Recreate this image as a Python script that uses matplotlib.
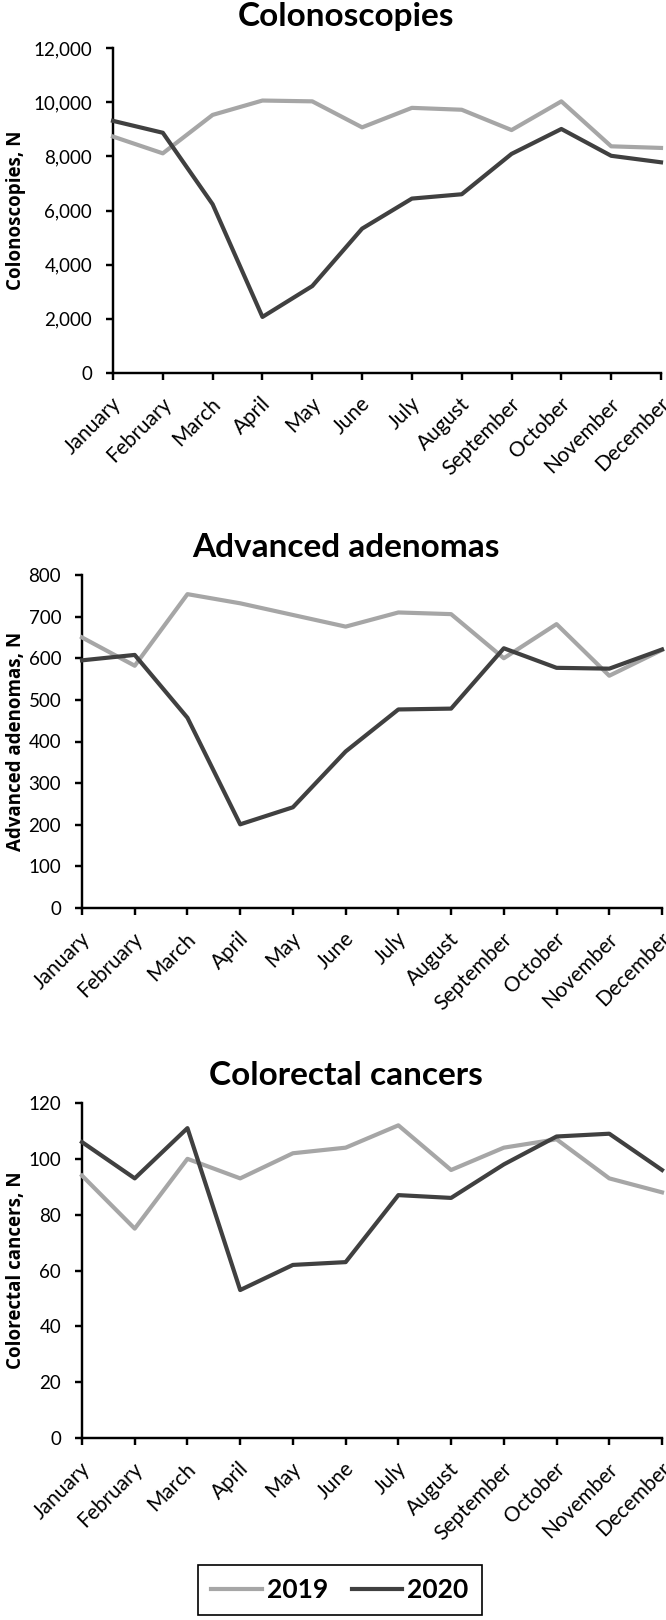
#!/usr/bin/env python3

import sys

from matplotlib import pyplot, ticker, transforms


MONTHS = ["January", "February", "March", "April", "May", "June", "July",
          "August", "September", "October", "November", "December"]

COLONOSCOPIES_2019 = [8730, 8110, 9530, 10060, 10030, 9070, 9790, 9720, 8970, 10030, 8370, 8310]
COLONOSCOPIES_2020 = [9310, 8870, 6230, 2070, 3210, 5330, 6440, 6600, 8090, 9010, 8020, 7780]

ADENOMAS_2019 = [650, 582, 754, 732, 704, 676, 710, 706, 600, 682, 558, 620]
ADENOMAS_2020 = [595, 608, 457, 201, 242, 376, 477, 479, 624, 577, 575, 621]

CANCERS_2019 = [94, 75, 100, 93, 102, 104, 112, 96, 104, 107, 93, 88]
CANCERS_2020 = [106, 93, 111, 53, 62, 63, 87, 86, 98, 108, 109, 96]

TITLES = ["Colonoscopies", "Advanced adenomas", "Colorectal cancers"]
YLABELS = ["Colonoscopies, N", "Advanced adenomas, N", "Colorectal cancers, N"]
YTICKS = [range(0, 12001, 2000), range(0, 801, 100), range(0, 121, 20)]

COLOURS = (
    '#a6a6a6',      # 2019
    '#404040',      # 2020
)

W, H = 666, 1620

# axes boxes in pixels: left, right, top, bottom
BOXES = [
    (113, 661, 48, 373),
    (82, 662, 575, 908),
    (82, 662, 1103, 1438),
]
TITLE_BASELINE = [26, 557, 1085]
TITLE_X = 346


def plot():
    figure = pyplot.figure(figsize=(W / 100, H / 100), dpi=100)
    series = [
        (COLONOSCOPIES_2019, COLONOSCOPIES_2020),
        (ADENOMAS_2019, ADENOMAS_2020),
        (CANCERS_2019, CANCERS_2020),
    ]
    x = list(range(len(MONTHS)))
    # nudge month labels a little right, like Excel does
    nudge = transforms.ScaledTranslation(5 / 100, 0, figure.dpi_scale_trans)

    for i, (y19, y20) in enumerate(series):
        left, right, top, bottom = BOXES[i]
        axes = figure.add_axes([left / W, 1 - bottom / H,
                                (right - left) / W, (bottom - top) / H])

        axes.spines["right"].set_visible(False)
        axes.spines["top"].set_visible(False)
        for side in ("left", "bottom"):
            axes.spines[side].set_linewidth(1.75)
            axes.spines[side].set_color('black')

        axes.plot(x, y19, color=COLOURS[0], lw=3, label="2019",
                  solid_joinstyle='round', clip_on=False, zorder=3)
        axes.plot(x, y20, color=COLOURS[1], lw=3, label="2020",
                  solid_joinstyle='round', clip_on=False, zorder=4)

        axes.set_xlim(0, 11)
        axes.set_ylim(YTICKS[i][0], YTICKS[i][-1])
        axes.set_yticks(list(YTICKS[i]))
        axes.get_yaxis().set_major_formatter(ticker.StrMethodFormatter('{x:,.0f}'))
        axes.set_xticks(x)
        axes.set_xticklabels(MONTHS, rotation=45, ha='right', va='center',
                             rotation_mode='anchor')
        axes.tick_params(axis='both', direction='out', length=5, width=1.75)
        axes.tick_params(axis='y', pad=10, labelsize=13.5)
        axes.tick_params(axis='x', pad=15, labelsize=15)
        for label in axes.get_xticklabels():
            label.set_family('Lato')
            label.set_transform(label.get_transform() + nudge)
        for label in axes.get_yticklabels():
            label.set_family('Lato')

        figure.text(TITLE_X / W, 1 - TITLE_BASELINE[i] / H, TITLES[i],
                    ha='center', va='baseline', fontsize=24,
                    fontweight='bold', family='Lato')
        figure.text(16 / W, 1 - (top + bottom) / 2 / H, YLABELS[i],
                    rotation=90, ha='center', va='center', fontsize=13.5,
                    fontweight='bold', family='Open Sans')

    handles, labels = axes.get_legend_handles_labels()
    legend = figure.legend(handles, labels, loc='center', ncol=2,
                           bbox_to_anchor=(340 / W, 1 - 1590 / H),
                           prop={'family': 'Lato', 'weight': 'bold', 'size': 19},
                           fancybox=False, edgecolor='black', framealpha=1,
                           handlelength=1.9, handletextpad=0.2,
                           columnspacing=0.9, borderpad=0.5)
    legend.get_frame().set_linewidth(1.2)

    figure.savefig("out.png", dpi=100)


def main() -> int:
    plot()
    return 0


if __name__ == '__main__':
    sys.exit(main())
